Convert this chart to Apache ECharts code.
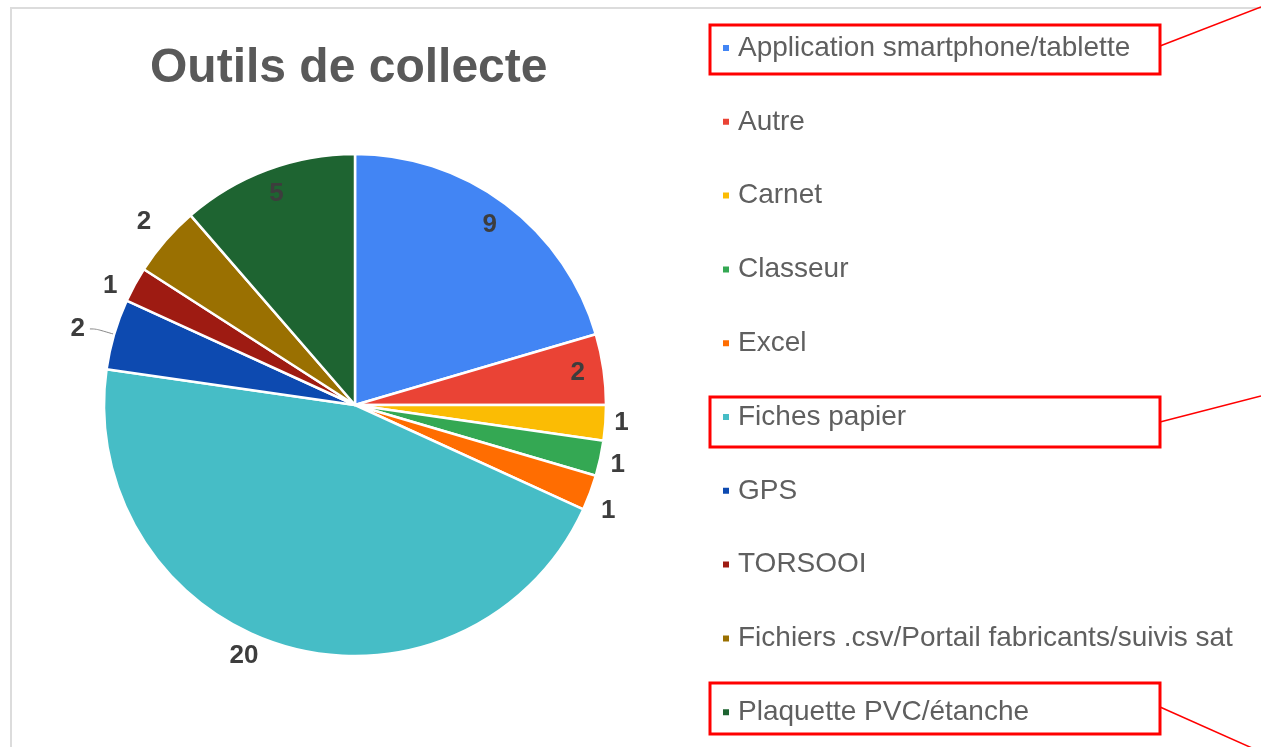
<!DOCTYPE html>
<html>
<head>
<meta charset="utf-8">
<script src="https://cdn.jsdelivr.net/npm/echarts@6/dist/echarts.min.js"></script>
<style>
  html, body { margin: 0; padding: 0; background: #fff; }
  #main { width: 1261px; height: 747px; }
</style>
</head>
<body>
<div id="main"></div>
<script>
const categories = [
  'Application smartphone/tablette',
  'Autre',
  'Carnet',
  'Classeur',
  'Excel',
  'Fiches papier',
  'GPS',
  'TORSOOI',
  'Fichiers .csv/Portail fabricants/suivis sat',
  'Plaquette PVC/étanche'
]
const values = [9, 2, 1, 1, 1, 20, 2, 1, 2, 5]
// slices whose number sits inside the pie
const insideLabel = [true, true, false, false, false, false, false, false, false, true]

const colors = ['#4285f4', '#ea4335', '#fbbc04', '#34a853', '#ff6d01', '#46bdc6', '#0d4ab0', '#9e1b12', '#9a7001', '#1e6431']
// labelLine length / length2 for the outside numbers (tuned by eye)
const outsideLine = { 2: [5, -1], 3: [31, -25], 4: [52, -43], 5: [10, 18], 6: [19, 6], 7: [-3, 15], 8: [28, -12] }

const font = 'Liberation Sans, Arial, Helvetica, sans-serif'
const labelStyle = { fontFamily: font, fontWeight: 'bold', fontSize: 26, color: '#3d3d3d' }

const mainData = categories.map((name, i) => {
  const item = { name: name, value: values[i], itemStyle: { color: colors[i] } }
  if (insideLabel[i]) {
    item.label = { show: false }
  } else {
    const l = outsideLine[i]
    item.labelLine = { show: i === 6, length: l[0], length2: l[1] }
  }
  return item
})
const innerData = categories.map((name, i) => ({
  name: name,
  value: values[i],
  label: { show: insideLabel[i] }
}))

const chart = echarts.init(document.getElementById('main'))
chart.setOption({
  animation: false,
  backgroundColor: '#fff',
  color: colors,
  title: {
    text: 'Outils de collecte',
    left: 150,
    top: 45,
    padding: 0,
    textStyle: { fontFamily: font, fontWeight: 'bold', fontSize: 48, color: '#595959' }
  },
  legend: {
    orient: 'vertical',
    left: 721,
    top: 33,
    padding: 0,
    icon: 'rect',
    itemWidth: 8,
    itemHeight: 8,
    itemGap: 43.8,
    selectedMode: false,
    data: categories,
    textStyle: { fontFamily: font, fontSize: 28, color: '#5f5f5f', lineHeight: 30, padding: [0, 0, 0, 3] }
  },
  series: [{
    type: 'pie',
    center: [355, 405],
    radius: 251,
    startAngle: 90,
    clockwise: true,
    avoidLabelOverlap: false,
    itemStyle: { borderColor: '#fff', borderWidth: 2.5 },
    label: Object.assign({ position: 'outside', formatter: '{c}' }, labelStyle),
    labelLine: { show: false, smooth: 0.4, lineStyle: { color: '#888', width: 1 } },
    emphasis: { disabled: true },
    data: mainData
  }, {
    // transparent ring, only used to place the inner numbers near the rim
    type: 'pie',
    center: [355, 405],
    radius: [193, 251],
    startAngle: 90,
    clockwise: true,
    silent: true,
    avoidLabelOverlap: false,
    itemStyle: { color: 'rgba(0,0,0,0)', borderWidth: 0 },
    label: Object.assign({ position: 'inside', formatter: '{c}' }, labelStyle),
    labelLine: { show: false },
    emphasis: { disabled: true },
    data: innerData
  }],
  graphic: [
    { type: 'polyline', z: 100, shape: { points: [[11, 747], [11, 8], [1261, 8]] }, style: { stroke: '#dcdcdc', lineWidth: 2, fill: null } },
    { type: 'rect', z: 100, shape: { x: 710, y: 25, width: 450, height: 49 }, style: { stroke: '#ff0000', lineWidth: 3, fill: null } },
    { type: 'rect', z: 100, shape: { x: 710, y: 397, width: 450, height: 50 }, style: { stroke: '#ff0000', lineWidth: 3, fill: null } },
    { type: 'rect', z: 100, shape: { x: 710, y: 683, width: 450, height: 51 }, style: { stroke: '#ff0000', lineWidth: 3, fill: null } },
    { type: 'line', z: 100, shape: { x1: 1160, y1: 46, x2: 1261, y2: 7 }, style: { stroke: '#ff0000', lineWidth: 1.5 } },
    { type: 'line', z: 100, shape: { x1: 1160, y1: 422, x2: 1261, y2: 396 }, style: { stroke: '#ff0000', lineWidth: 1.5 } },
    { type: 'line', z: 100, shape: { x1: 1160, y1: 707, x2: 1261, y2: 752 }, style: { stroke: '#ff0000', lineWidth: 1.5 } }
  ]
})
</script>
</body>
</html>
